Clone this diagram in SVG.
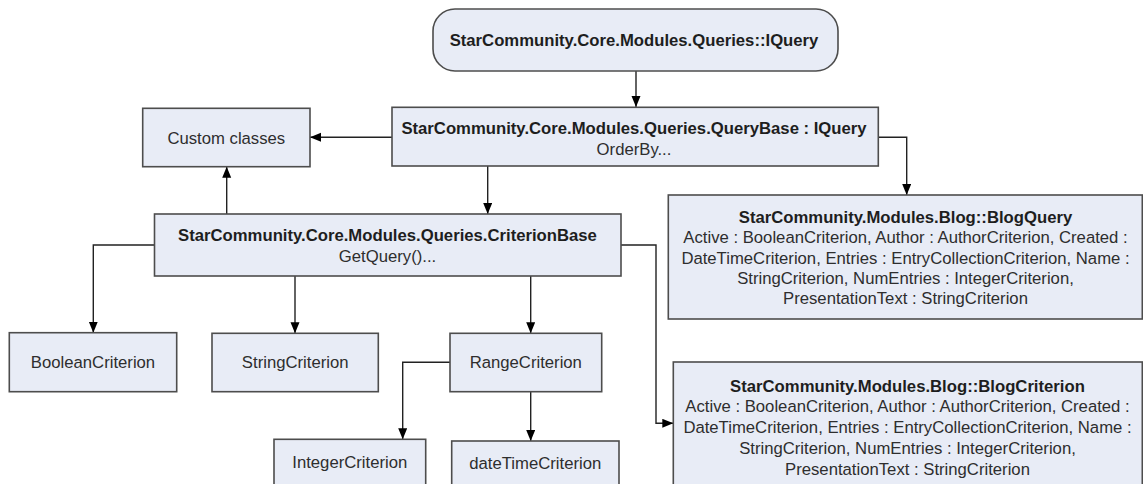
<svg xmlns="http://www.w3.org/2000/svg" width="1143" height="484" viewBox="0 0 1143 484">
  <style>
    .box { fill: #E8ECF6; stroke: #4D4D4D; stroke-width: 1.6; }
    .t { font-family: "Liberation Sans", Arial, sans-serif; font-size: 16.7px; fill: #2E2E2E; text-anchor: middle; }
    .b { font-weight: bold; fill: #1E1E1E; }
    .conn { fill: none; stroke: #222222; stroke-width: 1.4; marker-end: url(#arrow); }
  </style>
  <defs>
    <marker id="arrow" markerUnits="userSpaceOnUse" markerWidth="12" markerHeight="10" refX="11" refY="4.5" orient="auto">
      <path d="M0,0 L11,4.5 L0,9 z" fill="#000000"/>
    </marker>
  </defs>
  <rect width="1143" height="484" fill="#FFFFFF"/>

  <g id="connectors">
    <path class="conn" d="M636,71 L636,107"/>
    <path class="conn" d="M392,137.3 L310,137.3"/>
    <path class="conn" d="M226.7,214 L226.7,166.7"/>
    <path class="conn" d="M487.7,166 L487.7,214"/>
    <path class="conn" d="M878.3,137.3 L906.7,137.3 L906.7,195"/>
    <path class="conn" d="M154.5,245 L93.3,245 L93.3,332.7"/>
    <path class="conn" d="M295,276 L295,333.3"/>
    <path class="conn" d="M530.7,276 L530.7,333.3"/>
    <path class="conn" d="M621,245 L656,245 L656,423.3 L673.3,423.3"/>
    <path class="conn" d="M450,362.3 L402.7,362.3 L402.7,439.3"/>
    <path class="conn" d="M530.7,391.7 L530.7,441"/>
  </g>

  <g id="iquery">
    <rect class="box" x="433" y="9" width="405" height="62" rx="22" ry="22"/>
    <text class="t b" x="634" y="46">StarCommunity.Core.Modules.Queries::IQuery</text>
  </g>

  <g id="querybase">
    <rect class="box" x="392" y="107.3" width="486.3" height="58.7"/>
    <text class="t b" x="634" y="133.5">StarCommunity.Core.Modules.Queries.QueryBase : IQuery</text>
    <text class="t" x="634" y="155">OrderBy...</text>
  </g>

  <g id="custom-classes">
    <rect class="box" x="142.7" y="108.3" width="167.3" height="58.4"/>
    <text class="t" x="226.3" y="143.5">Custom classes</text>
  </g>

  <g id="criterionbase">
    <rect class="box" x="154.5" y="214" width="466.5" height="62"/>
    <text class="t b" x="387.5" y="241">StarCommunity.Core.Modules.Queries.CriterionBase</text>
    <text class="t" x="387.5" y="262">GetQuery()...</text>
  </g>

  <g id="blogquery">
    <rect class="box" x="668.3" y="195" width="474" height="124"/>
    <text class="t b" x="905.5" y="223">StarCommunity.Modules.Blog::BlogQuery</text>
    <text class="t" x="905.5" y="243.3">Active : BooleanCriterion, Author : AuthorCriterion, Created :</text>
    <text class="t" x="905.5" y="263.6">DateTimeCriterion, Entries : EntryCollectionCriterion, Name :</text>
    <text class="t" x="905.5" y="283.9">StringCriterion, NumEntries : IntegerCriterion,</text>
    <text class="t" x="905.5" y="304.2">PresentationText : StringCriterion</text>
  </g>

  <g id="booleancriterion">
    <rect class="box" x="9.3" y="332.7" width="167.4" height="59"/>
    <text class="t" x="93" y="368">BooleanCriterion</text>
  </g>

  <g id="stringcriterion">
    <rect class="box" x="212" y="333.3" width="166.3" height="58.4"/>
    <text class="t" x="295.2" y="368">StringCriterion</text>
  </g>

  <g id="rangecriterion">
    <rect class="box" x="450" y="333.3" width="151.7" height="58.4"/>
    <text class="t" x="525.8" y="368">RangeCriterion</text>
  </g>

  <g id="integercriterion">
    <rect class="box" x="274" y="439.3" width="151.7" height="60"/>
    <text class="t" x="349.8" y="468">IntegerCriterion</text>
  </g>

  <g id="datetimecriterion">
    <rect class="box" x="451.7" y="441" width="167.3" height="60"/>
    <text class="t" x="535.3" y="469">dateTimeCriterion</text>
  </g>

  <g id="blogcriterion">
    <rect class="box" x="673.3" y="362" width="469" height="130"/>
    <text class="t b" x="907.5" y="391.5">StarCommunity.Modules.Blog::BlogCriterion</text>
    <text class="t" x="907.5" y="412.3">Active : BooleanCriterion, Author : AuthorCriterion, Created :</text>
    <text class="t" x="907.5" y="433.1">DateTimeCriterion, Entries : EntryCollectionCriterion, Name :</text>
    <text class="t" x="907.5" y="453.9">StringCriterion, NumEntries : IntegerCriterion,</text>
    <text class="t" x="907.5" y="474.7">PresentationText : StringCriterion</text>
  </g>
</svg>
